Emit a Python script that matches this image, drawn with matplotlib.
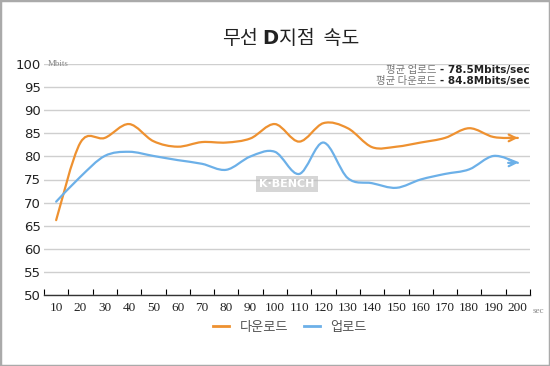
#!/usr/bin/env python3
import matplotlib
matplotlib.use("Agg")
import matplotlib.pyplot as plt
from matplotlib.path import Path
from matplotlib.patches import PathPatch, Rectangle
from matplotlib.lines import Line2D

plt.rcParams["font.family"] = ["Noto Sans CJK KR", "DejaVu Sans"]

seconds = [10, 20, 30, 40, 50, 60, 70, 80, 90, 100,
           110, 120, 130, 140, 150, 160, 170, 180, 190, 200]
download = [66.2, 83.0, 84.0, 87.0, 83.3, 82.1, 83.1, 83.0, 83.9, 87.0,
            83.2, 87.2, 86.1, 82.0, 82.1, 83.0, 84.0, 86.1, 84.2, 84.0]
upload = [70.2, 75.6, 80.1, 81.0, 80.1, 79.2, 78.4, 77.1, 80.0, 81.0,
          76.2, 83.0, 75.3, 74.2, 73.2, 75.0, 76.2, 77.2, 80.1, 78.6]
yticks = [50, 55, 60, 65, 70, 75, 80, 85, 90, 95, 100]

ORANGE = "#ee9130"
BLUE = "#6cb0e8"


def smooth_path(xs, ys):
    # Catmull-Rom style bezier through the data points (like a spreadsheet "smoothed line")
    pts = list(zip(xs, ys))
    verts = [pts[0]]
    codes = [Path.MOVETO]
    n = len(pts)
    for i in range(n - 1):
        p0 = pts[max(i - 1, 0)]
        p1 = pts[i]
        p2 = pts[i + 1]
        p3 = pts[min(i + 2, n - 1)]
        c1 = (p1[0] + (p2[0] - p0[0]) / 6, p1[1] + (p2[1] - p0[1]) / 6)
        c2 = (p2[0] - (p3[0] - p1[0]) / 6, p2[1] - (p3[1] - p1[1]) / 6)
        verts += [c1, c2, p2]
        codes += [Path.CURVE4] * 3
    return Path(verts, codes)


fig = plt.figure(figsize=(5.5, 3.66), dpi=100)
ax = fig.add_axes([44 / 550, 71 / 366, 486 / 550, 231 / 366])

pos = list(range(len(seconds)))
for vals, color in [(download, ORANGE), (upload, BLUE)]:
    ax.add_patch(PathPatch(smooth_path(pos, vals), facecolor="none",
                           edgecolor=color, lw=1.6, capstyle="round"))
    ax.annotate("", xy=(pos[-1], vals[-1]), xytext=(pos[-1] - 0.4, vals[-1]),
                arrowprops=dict(arrowstyle="->", color=color, lw=1.6,
                                mutation_scale=12, shrinkA=0, shrinkB=0))

ax.set_xlim(-0.5, len(seconds) - 0.5)
ax.set_ylim(50, 100)
ax.set_yticks(yticks)
ax.set_yticklabels([str(v) for v in yticks], fontsize=9.5, color="#222222",
                   family="DejaVu Sans")
ax.set_xticks(pos)
ax.set_xticklabels([str(s) for s in seconds], fontsize=9.5, color="#222222",
                   family="Liberation Serif")
ax.set_xticks([p - 0.5 for p in pos] + [pos[-1] + 0.5], minor=True)
ax.tick_params(axis="x", which="major", length=0, pad=5)
ax.tick_params(axis="x", which="minor", length=4, direction="in", width=0.8)
ax.tick_params(axis="y", length=0, pad=2)

for s in ["top", "right", "left"]:
    ax.spines[s].set_visible(False)
ax.spines["bottom"].set_color("#333333")
ax.spines["bottom"].set_linewidth(1.0)
ax.grid(axis="y", color="#cfcfcf", lw=1.0)
ax.set_axisbelow(True)

ax.text(0.007, 100, "Mbits", fontsize=6.5, color="#888888", va="center",
        ha="left", family="Liberation Serif", transform=ax.get_yaxis_transform())
fig.text(533 / 550, 1 - 311 / 366, "sec", fontsize=6.5, color="#888888",
         family="Liberation Serif", va="center", ha="left")

# averages box top-right
b1 = ax.text(1.0, 0.975, "- 78.5Mbits/sec", transform=ax.transAxes, ha="right",
             va="center", fontsize=7.5, fontweight="bold", color="#222222",
             family="DejaVu Sans")
b2 = ax.text(1.0, 0.925, "- 84.8Mbits/sec", transform=ax.transAxes, ha="right",
             va="center", fontsize=7.5, fontweight="bold", color="#222222",
             family="DejaVu Sans")
for label, anchor in [("평균 업로드", b1), ("평균 다운로드", b2)]:
    ax.annotate(label, xy=(0, 0.5), xycoords=anchor, xytext=(-3, 0),
                textcoords="offset points", ha="right", va="center",
                fontsize=7.5, color="#777777")

# watermark
ax.text(0.5, 0.48, "K·BENCH", transform=ax.transAxes, ha="center", va="center",
        fontsize=8, fontweight="bold", color="white", family="DejaVu Sans",
        bbox=dict(boxstyle="square,pad=0.3", fc="#bbbbbb", ec="none", alpha=0.6))

# title with bold "D"
t_mid = fig.text(270 / 550, 1 - 38 / 366, "D", ha="center", va="center",
                 fontsize=14, fontweight="bold", color="#222222",
                 family="DejaVu Sans")
ann_kw = dict(va="center", fontsize=14, color="#222222", fontweight="medium")
ax.annotate("무선", xy=(0, 0.5), xycoords=t_mid, xytext=(-3, 0),
            textcoords="offset points", ha="right", annotation_clip=False,
            **ann_kw)
ax.annotate("지점  속도", xy=(1, 0.5), xycoords=t_mid, xytext=(0.5, 0),
            textcoords="offset points", ha="left", annotation_clip=False,
            **ann_kw)

handles = [Line2D([], [], color=ORANGE, lw=2), Line2D([], [], color=BLUE, lw=2)]
fig.legend(handles, ["다운로드", "업로드"], loc="center",
           bbox_to_anchor=(290 / 550, 1 - 327 / 366), ncol=2, frameon=False,
           fontsize=9.5, handlelength=1.2, columnspacing=1.2,
           labelcolor="#555555")

fig.patches.append(Rectangle((0, 0), 1, 1, transform=fig.transFigure,
                             fill=False, ec="#aaaaaa", lw=2.5))

fig.savefig("out.png", dpi=100)
plt.close(fig)
